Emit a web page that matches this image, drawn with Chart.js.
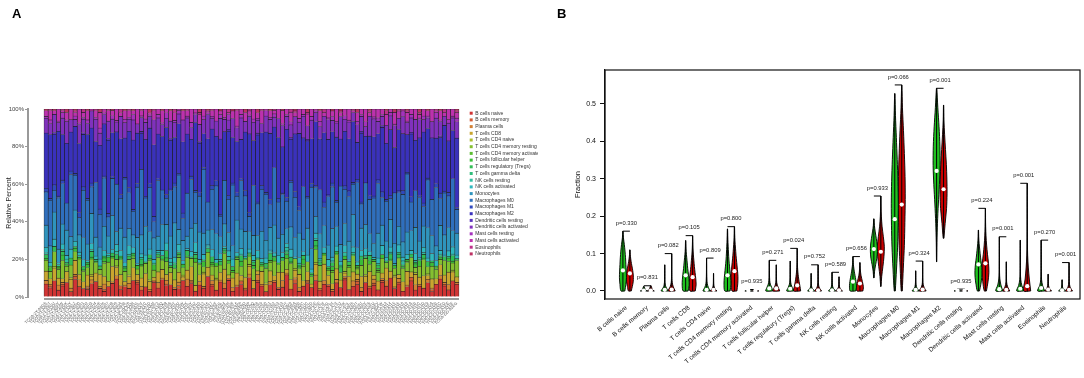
<!DOCTYPE html>
<html><head><meta charset="utf-8">
<script src="https://cdn.jsdelivr.net/npm/chart.js@4.4.1/dist/chart.umd.min.js"></script>
<style>
html,body{margin:0;padding:0;background:#fff;width:1084px;height:378px;overflow:hidden}
#ca{position:absolute;left:0;top:0}
#cb{position:absolute;left:540px;top:0}
.lab{position:absolute;font:bold 13px "Liberation Sans",Arial,sans-serif;color:#000}
</style></head><body>
<canvas id="ca" width="560" height="378"></canvas>
<canvas id="cb" width="544" height="378"></canvas>
<div class="lab" style="left:12px;top:6px">A</div>
<div class="lab" style="left:557px;top:6px">B</div>
<script>
// ---------- shared categories ----------
const cellTypes = ['B cells naive','B cells memory','Plasma cells','T cells CD8','T cells CD4 naive','T cells CD4 memory resting','T cells CD4 memory activated','T cells follicular helper','T cells regulatory (Tregs)','T cells gamma delta','NK cells resting','NK cells activated','Monocytes','Macrophages M0','Macrophages M1','Macrophages M2','Dendritic cells resting','Dendritic cells activated','Mast cells resting','Mast cells activated','Eosinophils','Neutrophils'];
const cellColors = ['#d23434','#d25a34','#d28034','#c9a52f','#aabd2f','#84c030','#5cbd32','#3abd37','#32bd55','#31bd7c','#31bda1','#2fb8bd','#2f94bd','#2f6fbd','#3049bd','#3a31bd','#5a31bd','#8031bd','#a531bd','#bd31ad','#bd318a','#bd3163'];

// ---------- panel A: sample ids (tick labels) ----------
const sampleIds = ('TCGA-2Y-A9GS TCGA-2Y-A9GT TCGA-2Y-A9GU TCGA-2Y-A9GV TCGA-2Y-A9GW TCGA-2Y-A9GX TCGA-2Y-A9GY TCGA-2Y-A9GZ TCGA-2Y-A9H0 TCGA-2Y-A9H1 ' +
 'TCGA-2Y-A9H2 TCGA-2Y-A9H3 TCGA-2Y-A9H4 TCGA-2Y-A9H5 TCGA-2Y-A9H6 TCGA-2Y-A9H7 TCGA-2Y-A9H8 TCGA-2Y-A9H9 TCGA-2Y-A9HA TCGA-2Y-A9HB ' +
 'TCGA-3K-AAZ8 TCGA-4R-AA8I TCGA-5C-A9VG TCGA-5C-A9VH TCGA-5R-AA1C TCGA-5R-AA1D TCGA-5R-AAAM TCGA-BC-4072 TCGA-BC-A10Q TCGA-BC-A10R ' +
 'TCGA-BC-A10S TCGA-BC-A10T TCGA-BC-A10U TCGA-BC-A10W TCGA-BC-A10X TCGA-BC-A10Y TCGA-BC-A10Z TCGA-BC-A110 TCGA-BC-A112 TCGA-BC-A216 ' +
 'TCGA-BC-A217 TCGA-BC-A3KF TCGA-BC-A3KG TCGA-BC-A5W4 TCGA-BC-A69H TCGA-BC-A69I TCGA-BD-A2L6 TCGA-BD-A3EP TCGA-BW-A5NO TCGA-BW-A5NP ' +
 'TCGA-BW-A5NQ TCGA-CC-5258 TCGA-CC-5259 TCGA-CC-5260 TCGA-CC-5261 TCGA-CC-5262 TCGA-CC-5263 TCGA-CC-A123 TCGA-CC-A1HT TCGA-CC-A3M9 ' +
 'TCGA-CC-A3MA TCGA-CC-A3MB TCGA-CC-A3MC TCGA-CC-A5UC TCGA-CC-A5UD TCGA-CC-A5UE TCGA-CC-A7IE TCGA-CC-A7IF TCGA-CC-A7IG TCGA-CC-A7IH ' +
 'TCGA-CC-A7II TCGA-CC-A7IJ TCGA-CC-A7IK TCGA-CC-A7IL TCGA-CC-A8HS TCGA-CC-A8HT TCGA-CC-A8HU TCGA-CC-A8HV TCGA-CC-A9FS TCGA-CC-A9FU ' +
 'TCGA-CC-A9FV TCGA-CC-A9FW TCGA-DD-A113 TCGA-DD-A114 TCGA-DD-A115 TCGA-DD-A116 TCGA-DD-A118 TCGA-DD-A119 TCGA-DD-A11A TCGA-DD-A11B ' +
 'TCGA-DD-A11C TCGA-DD-A11D TCGA-DD-A1E9 TCGA-DD-A1EA TCGA-DD-A1EB TCGA-DD-A1EC TCGA-DD-A1ED TCGA-DD-A1EE TCGA-DD-A1EF TCGA-DD-A1EG').split(' ');
const pctTicks = [0,20,40,60,80,100];

// ---------- panel A: estimated fractions (percent, per sample) ----------
const bNaive   = [7,5,9,4,6,8,3,10,6,5, 4,7,9,5,3,6,8,11,4,6, 5,9,7,4,6,3,8,5,10,6, 7,4,5,9,6,8,3,7,5,11, 6,4,8,5,9,3,6,7,4,10, 5,8,6,3,7,9,4,6,12,5, 7,3,6,8,5,9,4,7,6,3, 8,5,10,4,6,7,3,9,5,6, 4,8,6,11,5,7,3,6,9,4, 6,5,8,3,7,10,6,4,9,7];
const bMemory  = [0,1,0,0,1,0,0,2,0,0, 1,0,0,0,1,0,0,0,2,0, 0,0,1,0,0,0,1,0,0,1, 0,0,2,0,0,1,0,0,0,0, 1,0,0,0,1,0,0,2,0,0, 0,1,0,0,0,0,1,0,0,0, 2,0,0,1,0,0,0,0,1,0, 0,0,1,0,0,2,0,0,0,1, 0,1,0,0,0,1,0,0,2,0, 0,0,0,1,0,0,1,0,0,0];
const plasma   = [2,1,0,3,1,0,2,1,4,0, 1,2,0,1,3,0,1,2,0,1, 3,0,1,2,0,1,0,3,1,2, 0,1,2,0,4,1,0,2,1,0, 2,0,1,3,0,2,1,0,1,2, 0,3,1,0,2,1,0,4,1,0, 1,2,0,1,0,3,1,2,0,1, 2,0,1,0,3,1,2,0,1,2, 0,1,3,0,1,2,0,1,0,3, 1,0,2,1,0,2,1,3,0,1];
const tCD8     = [5,3,7,4,2,6,5,8,3,4, 6,2,5,7,4,3,9,5,6,2, 4,7,3,5,8,4,2,6,5,3, 7,4,6,2,5,8,3,4,7,5, 3,6,4,8,2,5,7,3,6,4, 5,2,7,4,6,3,8,5,2,6, 4,7,3,5,2,6,4,9,5,3, 6,4,2,7,5,3,6,4,8,2, 5,3,7,4,6,2,5,8,3,6, 4,7,2,5,3,6,4,7,5,3];
const cd4Naive = [0,0,1,0,0,0,1,0,0,0, 0,1,0,0,0,0,0,1,0,0, 1,0,0,0,0,1,0,0,0,0, 0,0,0,1,0,0,0,0,1,0, 0,1,0,0,0,0,0,0,0,1, 0,0,0,1,0,0,0,0,0,0, 1,0,0,0,0,1,0,0,0,0, 0,0,1,0,0,0,0,1,0,0, 0,0,0,0,1,0,0,0,0,1, 0,0,1,0,0,0,0,0,1,0];
const cd4Rest  = [6,4,8,5,10,3,7,5,9,6, 4,8,6,3,7,11,5,4,8,6, 9,5,3,7,6,10,4,8,5,7, 3,6,9,4,7,5,12,6,3,8, 5,7,4,9,6,3,8,5,10,4, 7,6,3,8,5,9,4,7,6,10, 5,3,8,6,4,7,9,5,3,6, 8,4,7,5,9,3,6,10,4,7, 5,8,3,6,4,9,7,5,8,3, 6,9,4,7,5,3,8,6,4,9];
const cd4Act   = [0,0,0,1,0,0,0,0,0,1, 0,0,0,0,1,0,0,0,0,0, 0,1,0,0,0,0,0,0,1,0, 0,0,1,0,0,0,0,0,0,0, 1,0,0,0,0,0,1,0,0,0, 0,0,0,0,1,0,0,0,0,0, 0,0,1,0,0,0,0,0,0,1, 0,0,0,0,0,1,0,0,0,0, 1,0,0,0,0,0,0,1,0,0, 0,0,0,0,1,0,0,0,0,0];
const tfh      = [1,2,0,1,3,1,0,2,1,0, 2,1,1,0,2,3,1,0,1,2, 0,1,2,1,0,1,3,1,0,2, 1,0,1,2,1,0,2,1,3,0, 1,2,0,1,2,1,0,3,1,1, 2,0,1,1,0,2,1,0,2,1, 0,1,3,0,1,2,0,1,1,2, 1,0,2,1,0,1,3,0,2,1, 1,2,0,1,2,0,1,1,0,2, 3,1,0,2,1,1,0,2,1,0];
const tregs    = [2,1,3,0,2,1,4,1,0,2, 1,3,0,2,1,0,2,3,1,0, 2,1,0,3,1,2,0,1,2,4, 0,2,1,0,3,1,2,0,1,2, 3,0,2,1,0,2,1,3,0,1, 2,1,0,2,4,1,0,2,1,3, 0,1,2,0,1,3,2,0,1,2, 1,3,0,2,1,0,2,1,3,0, 2,0,1,3,0,2,1,0,2,1, 0,2,3,1,0,1,2,0,3,1];
const tGD      = [0,0,0,0,1,0,0,0,0,0, 0,0,1,0,0,0,0,0,0,1, 0,0,0,0,0,0,1,0,0,0, 0,1,0,0,0,0,0,0,0,0, 0,0,0,1,0,0,0,0,0,0, 0,0,1,0,0,0,0,0,1,0, 0,0,0,0,0,0,1,0,0,0, 0,1,0,0,0,0,0,0,0,0, 0,0,0,0,0,1,0,0,0,0, 1,0,0,0,0,0,0,1,0,0];
const nkRest   = [1,0,0,1,0,2,0,0,1,0, 0,1,0,0,0,1,0,2,0,0, 1,0,0,1,0,0,0,1,0,0, 2,0,1,0,0,0,1,0,0,1, 0,0,1,0,2,0,0,1,0,0, 1,0,0,0,1,0,0,0,2,0, 0,1,0,0,0,1,0,0,0,1, 0,0,2,0,1,0,0,1,0,0, 1,0,0,1,0,0,2,0,0,1, 0,1,0,0,0,1,0,0,1,0];
const nkAct    = [3,2,4,1,3,2,5,3,2,4, 1,3,2,4,3,1,2,4,3,2, 5,3,1,2,4,3,2,1,3,4, 2,3,4,2,1,3,5,2,3,1, 4,2,3,1,3,4,2,3,1,2, 3,4,2,3,1,2,4,3,2,5, 1,3,2,4,2,3,1,3,4,2, 3,2,4,1,3,2,3,4,2,1, 3,5,2,3,1,4,2,3,2,4, 1,3,2,4,3,2,1,3,4,2];
const monocytes= [12,9,15,8,11,14,7,18,10,13, 9,16,11,7,13,10,20,8,12,15, 10,7,14,11,17,9,12,8,15,10, 13,18,9,11,7,14,10,16,12,8, 11,15,9,13,10,7,19,11,14,9, 12,8,15,10,13,17,9,11,8,14, 10,13,7,16,11,9,14,12,8,15, 11,9,13,10,18,8,12,15,10,7, 14,11,9,16,12,10,8,13,11,15, 9,12,17,10,8,14,11,13,9,12];
const macroM0  = [18,25,12,30,22,15,35,20,10,28, 24,14,32,19,26,11,22,29,16,34, 21,13,27,38,17,23,9,31,20,14, 26,19,33,12,24,29,16,21,36,15, 22,28,11,25,18,32,14,27,20,8, 30,17,23,26,13,35,19,24,15,28, 21,12,29,18,33,16,25,10,27,22, 14,31,20,24,17,37,13,26,19,23, 28,15,22,12,30,18,25,34,16,21, 24,11,27,20,32,15,23,18,29,13];
const macroM1  = [2,1,3,1,2,0,2,1,3,2, 1,2,0,3,1,2,1,0,2,1, 3,1,2,0,1,2,3,1,0,2, 1,2,1,3,0,2,1,2,1,0, 2,3,1,0,2,1,2,1,3,2, 0,1,2,1,3,0,2,1,2,1, 3,2,0,1,2,1,0,3,1,2, 1,0,2,3,1,2,1,0,2,1, 2,3,1,2,0,1,2,1,3,0, 1,2,1,0,2,3,1,2,0,1];
const macroM2  = [30,35,28,38,25,33,22,27,40,31, 35,29,24,37,28,42,26,32,30,23, 33,38,27,21,34,29,40,25,31,36, 28,24,30,39,33,22,35,29,19,34, 31,26,40,28,35,24,30,22,33,41, 27,36,29,34,38,25,32,28,37,26, 30,39,27,33,24,35,29,38,31,27, 36,25,32,28,34,21,37,29,33,30, 26,35,31,38,27,33,30,22,35,29, 32,40,28,34,25,31,36,29,27,38];
const dcRest   = [0,0,1,0,0,0,0,0,0,1, 0,0,0,0,0,1,0,0,0,0, 0,0,0,1,0,0,0,0,0,0, 1,0,0,0,0,0,0,1,0,0, 0,0,0,0,1,0,0,0,0,0, 0,1,0,0,0,0,0,0,0,1, 0,0,0,1,0,0,0,0,0,0, 0,0,0,0,0,0,1,0,0,0, 0,1,0,0,0,0,0,0,1,0, 0,0,0,0,0,1,0,0,0,0];
const dcAct    = [8,6,10,5,9,12,7,4,11,8, 6,9,13,7,5,10,8,6,12,9, 7,11,5,8,10,6,14,9,7,5, 10,8,6,12,9,7,4,10,8,13, 6,9,11,7,5,10,8,12,6,9, 11,7,5,9,8,6,10,13,7,8, 9,6,12,8,10,5,7,9,11,6, 8,12,7,9,5,10,8,6,11,9, 7,5,10,8,13,6,9,7,8,12, 10,7,6,9,11,8,5,10,7,9];
const mastRest = [1,2,0,1,3,1,0,2,1,1, 2,0,1,3,1,0,2,1,0,2, 1,3,0,1,2,1,0,2,1,3, 0,1,2,0,1,3,1,0,2,1, 1,0,2,1,3,0,1,2,0,1, 2,1,0,3,1,2,0,1,1,2, 0,2,1,0,2,1,3,0,1,2, 1,0,2,1,0,2,1,3,0,1, 2,1,0,2,1,0,3,1,2,0, 1,2,1,0,3,1,0,2,1,2];
const mastAct  = [3,5,2,7,1,4,6,2,8,3, 5,1,4,9,2,6,3,7,2,5, 4,2,8,3,6,1,5,3,7,2, 6,4,1,5,3,8,2,6,4,1, 3,7,2,5,1,4,9,3,5,2, 6,3,7,1,4,2,5,8,3,6, 2,5,3,7,4,1,6,2,5,3, 7,2,4,6,1,5,3,8,2,4, 5,3,6,2,7,4,1,5,3,6, 2,4,3,7,1,5,2,6,4,3];
const eosin    = [0,1,0,0,1,0,0,1,0,2, 0,0,1,0,0,1,0,0,2,0, 1,0,0,1,0,0,1,0,0,0, 0,2,0,0,1,0,0,1,0,0, 1,0,0,0,2,0,1,0,0,1, 0,0,1,0,0,1,0,0,0,2, 1,0,0,1,0,0,0,2,0,0, 0,1,0,0,1,0,0,0,1,0, 0,0,2,0,0,1,0,1,0,0, 1,0,0,0,1,0,2,0,0,1];
const neutro   = [1,0,1,0,0,2,0,1,0,0, 1,0,0,2,0,0,1,0,0,1, 0,1,0,0,0,2,0,0,1,0, 1,0,0,1,0,0,0,2,0,1, 0,0,1,0,0,1,0,0,2,0, 0,2,0,0,1,0,0,1,0,0, 1,0,0,2,0,0,1,0,0,1, 0,1,0,0,0,2,0,0,1,0, 0,0,1,0,2,0,0,1,0,0, 2,0,1,0,0,1,0,0,0,1];
const seriesA = [bNaive,bMemory,plasma,tCD8,cd4Naive,cd4Rest,cd4Act,tfh,tregs,tGD,nkRest,nkAct,monocytes,macroM0,macroM1,macroM2,dcRest,dcAct,mastRest,mastAct,eosin,neutro];

// ---------- panel B: violin summaries (fraction) ----------
const pValues  = ['0.330','0.831','0.082','0.105','0.809','0.800','0.935','0.271','0.024','0.752','0.589','0.656','0.933','0.066','0.324','0.001','0.935','0.224','0.001','0.001','0.270','0.001'];
const fracTicks = [0,0.1,0.2,0.3,0.4,0.5];
const greenMin = [0,0,0,0,0,0,0,0,0,0,0,0,0.035,0,0,0.078,0,0,0,0,0,0];
const greenMax = [0.160,0.012,0.070,0.135,0.088,0.166,0.004,0.082,0.080,0.047,0.050,0.092,0.193,0.528,0.054,0.542,0.005,0.163,0.145,0.136,0.136,0.030];
const greenMed = [0.055,0.001,0.003,0.042,0.003,0.042,0.001,0.007,0.006,0.002,0.002,0.025,0.112,0.192,0.003,0.321,0.001,0.071,0.005,0.006,0.008,0.002];
const redMin   = [0,0,0,0,0,0,0,0,0,0,0,0,0.012,0,0,0.141,0,0,0,0,0,0];
const redMax   = [0.110,0.014,0.100,0.148,0.047,0.172,0.004,0.070,0.114,0.070,0.038,0.076,0.254,0.551,0.080,0.497,0.005,0.221,0.078,0.288,0.045,0.076];
const redMed   = [0.047,0.001,0.004,0.037,0.003,0.053,0.001,0.007,0.015,0.002,0.002,0.020,0.105,0.231,0.004,0.272,0.001,0.074,0.003,0.013,0.004,0.003];
// relative density width at 10 even levels from min to max
const greenShape = [
 [0.55,0.85,1.0,0.95,0.85,0.75,0.6,0.4,0.15,0.03],
 [1,0.7,0.5,0.4,0.35,0.3,0.25,0.2,0.15,0.1],
 [1,0.5,0.18,0.08,0.05,0.04,0.04,0.03,0.03,0.02],
 [0.7,1.0,0.95,0.8,0.6,0.45,0.3,0.15,0.08,0.03],
 [1,0.5,0.2,0.1,0.06,0.04,0.03,0.03,0.02,0.02],
 [0.75,1.0,0.9,0.7,0.5,0.35,0.25,0.15,0.08,0.03],
 [1,0.8,0.6,0.5,0.4,0.35,0.3,0.25,0.2,0.15],
 [1,0.7,0.3,0.12,0.07,0.05,0.04,0.03,0.03,0.02],
 [1,0.6,0.25,0.1,0.06,0.05,0.04,0.03,0.03,0.02],
 [1,0.45,0.18,0.08,0.05,0.04,0.03,0.03,0.02,0.02],
 [1,0.5,0.2,0.1,0.06,0.05,0.04,0.03,0.03,0.02],
 [0.8,1.0,0.95,0.8,0.6,0.4,0.25,0.12,0.06,0.03],
 [0.05,0.2,0.5,0.85,1.0,0.95,0.7,0.4,0.15,0.04],
 [0.15,0.5,0.8,0.95,1.0,0.9,0.7,0.45,0.2,0.03],
 [1,0.5,0.2,0.1,0.06,0.05,0.04,0.03,0.03,0.02],
 [0.03,0.1,0.25,0.5,0.8,1.0,0.95,0.7,0.35,0.05],
 [1,0.8,0.6,0.5,0.4,0.35,0.3,0.25,0.2,0.15],
 [0.3,0.7,0.95,1.0,0.85,0.6,0.4,0.2,0.08,0.03],
 [1,0.45,0.15,0.06,0.04,0.03,0.03,0.02,0.02,0.02],
 [1,0.45,0.15,0.06,0.04,0.03,0.03,0.02,0.02,0.02],
 [1,0.4,0.12,0.05,0.04,0.03,0.03,0.02,0.02,0.02],
 [1,0.6,0.3,0.15,0.1,0.08,0.06,0.05,0.04,0.03]];
const redShape = [
 [0.4,0.7,0.95,1.0,0.9,0.7,0.45,0.25,0.1,0.03],
 [1,0.7,0.5,0.4,0.35,0.3,0.25,0.2,0.15,0.1],
 [1,0.45,0.15,0.07,0.05,0.04,0.03,0.03,0.02,0.02],
 [0.75,1.0,0.9,0.7,0.5,0.35,0.2,0.1,0.05,0.02],
 [1,0.45,0.2,0.1,0.06,0.05,0.04,0.03,0.03,0.02],
 [0.7,0.95,1.0,0.85,0.65,0.45,0.3,0.15,0.07,0.03],
 [1,0.8,0.6,0.5,0.4,0.35,0.3,0.25,0.2,0.15],
 [1,0.65,0.3,0.12,0.07,0.05,0.04,0.03,0.03,0.02],
 [1,0.8,0.55,0.35,0.2,0.1,0.06,0.04,0.03,0.02],
 [1,0.4,0.15,0.07,0.05,0.04,0.03,0.03,0.02,0.02],
 [1,0.5,0.25,0.12,0.08,0.06,0.05,0.04,0.03,0.02],
 [0.85,1.0,0.9,0.7,0.5,0.3,0.18,0.1,0.05,0.03],
 [0.05,0.25,0.6,0.9,1.0,0.7,0.35,0.15,0.06,0.03],
 [0.15,0.45,0.75,0.9,1.0,0.95,0.75,0.5,0.2,0.03],
 [1,0.45,0.15,0.07,0.05,0.04,0.03,0.03,0.02,0.02],
 [0.1,0.45,0.85,1.0,0.95,0.8,0.55,0.3,0.1,0.03],
 [1,0.8,0.6,0.5,0.4,0.35,0.3,0.25,0.2,0.15],
 [0.3,0.75,1.0,0.9,0.6,0.35,0.18,0.08,0.04,0.02],
 [1,0.5,0.2,0.08,0.05,0.04,0.03,0.03,0.02,0.02],
 [1,0.6,0.3,0.12,0.06,0.04,0.03,0.03,0.02,0.02],
 [1,0.5,0.25,0.12,0.08,0.06,0.05,0.04,0.03,0.02],
 [1,0.4,0.15,0.07,0.05,0.04,0.03,0.03,0.02,0.02]];

Chart.defaults.font.family = '"Liberation Sans", Arial, sans-serif';
Chart.defaults.color = '#222';

// ================= PANEL A =================
const totals = sampleIds.map((_, j) => seriesA.reduce((s, arr) => s + arr[j], 0));
const dsA = cellTypes.map((name, k) => ({
  label: name,
  data: seriesA[k].map((v, j) => ({x: j, y: v / totals[j] * 100})),
  backgroundColor: cellColors[k],
  borderColor: 'rgba(15,15,15,0.9)',
  borderWidth: 0.6,
  barPercentage: 1, categoryPercentage: 1
}));
const axisLineA = {
  id: 'axisLineA',
  afterDraw(chart) {
    const {ctx, chartArea: a, scales: {x}} = chart;
    ctx.save(); ctx.strokeStyle = '#9a9a9a'; ctx.lineWidth = 2;
    ctx.beginPath();
    ctx.moveTo(x.getPixelForValue(-0.5), a.bottom + 2);
    ctx.lineTo(x.getPixelForValue(sampleIds.length - 0.5), a.bottom + 2);
    ctx.stroke(); ctx.restore();
  }
};
new Chart(document.getElementById('ca'), {
  type: 'bar',
  data: {datasets: dsA},
  plugins: [axisLineA],
  options: {
    responsive: false, animation: false, events: [],
    layout: {padding: {top: 109, left: 0, right: 22, bottom: 0}},
    plugins: {
      tooltip: {enabled: false},
      legend: {
        position: 'right', align: 'start', maxWidth: 70,
        labels: {
          boxWidth: 3, boxHeight: 3, padding: 1.7, color: '#333', font: {size: 5},
          generateLabels(chart) {
            const items = Chart.defaults.plugins.legend.labels.generateLabels(chart);
            items.forEach(it => { it.lineWidth = 0; it.strokeStyle = it.fillStyle; });
            return items;
          }
        }
      }
    },
    scales: {
      x: {
        type: 'linear', stacked: true, min: -4.355, max: 101.67, offset: false,
        grid: {display: false, drawTicks: false}, border: {display: false},
        afterBuildTicks: s => { s.ticks = sampleIds.map((_, i) => ({value: i})); },
        ticks: {autoSkip: false, minRotation: 45, maxRotation: 45, font: {size: 4}, color: '#555', padding: 4,
                callback: (v, i) => sampleIds[i]},
        afterFit: s => { s.height = 81; }
      },
      y: {
        stacked: true, min: 0, max: 100,
        afterBuildTicks: s => { s.ticks = pctTicks.map(v => ({value: v})); },
        ticks: {callback: v => v + '%', font: {size: 6}, color: '#444', padding: 1},
        grid: {drawOnChartArea: false, tickLength: 3, color: '#999', lineWidth: 1},
        border: {display: true, color: '#999', width: 2},
        title: {display: true, text: 'Relative Percent', font: {size: 7}, color: '#222', padding: {top: 5, bottom: 0}},
        afterFit: s => { s.width = 28; }
      }
    }
  }
});

// ================= PANEL B =================
const HALF = 0.5;
function violinPoints(pos, mn, mx, shape) {
  const K = shape.length, pts = [];
  for (let k = 0; k < K; k++) pts.push({x: pos + shape[k] * HALF, y: mn + (mx - mn) * k / (K - 1)});
  for (let k = K - 1; k >= 0; k--) pts.push({x: pos - shape[k] * HALF, y: mn + (mx - mn) * k / (K - 1)});
  pts.push({x: pts[0].x, y: pts[0].y});
  return pts;
}
const dsB = [];
const medPts = [], centerPts = [], bracketPts = [];
cellTypes.forEach((c, i) => {
  const gp = 3 * i + 1, rp = 3 * i + 2;
  dsB.push({data: violinPoints(gp, greenMin[i], greenMax[i], greenShape[i]), showLine: true, fill: 'shape',
    backgroundColor: '#1fc01f', borderColor: '#000', borderWidth: 0.9, pointRadius: 0, tension: 0.3, order: 3});
  dsB.push({data: violinPoints(rp, redMin[i], redMax[i], redShape[i]), showLine: true, fill: 'shape',
    backgroundColor: '#c80000', borderColor: '#000', borderWidth: 0.9, pointRadius: 0, tension: 0.3, order: 3});
  centerPts.push({x: gp, y: greenMin[i]}, {x: gp, y: greenMax[i]}, {x: gp, y: null});
  centerPts.push({x: rp, y: redMin[i]}, {x: rp, y: redMax[i]}, {x: rp, y: null});
  medPts.push({x: gp, y: greenMed[i]}, {x: rp, y: redMed[i]});
  const h = Math.max(greenMax[i], redMax[i]);
  bracketPts.push({x: gp, y: h}, {x: rp, y: h}, {x: rp, y: null});
});
dsB.push({data: centerPts, showLine: true, borderColor: '#000', borderWidth: 1, pointRadius: 0, spanGaps: false, order: 2});
dsB.push({data: bracketPts, showLine: true, borderColor: '#000', borderWidth: 1, pointRadius: 0, spanGaps: false, order: 2});
dsB.push({data: medPts, showLine: false, pointRadius: 2.1, pointBackgroundColor: '#fff', pointBorderWidth: 0, order: 1});

const boxAndP = {
  id: 'boxAndP',
  afterDatasetsDraw(chart) {
    const {ctx, chartArea: a, scales: {x, y}} = chart;
    ctx.save();
    ctx.strokeStyle = '#111'; ctx.lineWidth = 1.2;
    ctx.strokeRect(a.left, a.top, a.right - a.left, a.bottom - a.top);
    ctx.fillStyle = '#222';
    ctx.font = '5.8px "Liberation Sans", Arial, sans-serif';
    ctx.textAlign = 'center'; ctx.textBaseline = 'middle';
    cellTypes.forEach((c, i) => {
      const h = Math.max(greenMax[i], redMax[i]);
      ctx.fillText('p=' + pValues[i], x.getPixelForValue(3 * i + 1.5), y.getPixelForValue(h) - 8);
    });
    ctx.restore();
  }
};
new Chart(document.getElementById('cb'), {
  type: 'scatter',
  data: {datasets: dsB},
  plugins: [boxAndP],
  options: {
    responsive: false, animation: false, events: [],
    layout: {padding: {top: 70, left: 0, right: 2, bottom: 0}},
    plugins: {legend: {display: false}, tooltip: {enabled: false}},
    scales: {
      x: {
        type: 'linear', min: -1.571, max: 66.571,
        grid: {display: false, drawTicks: false}, border: {display: false},
        afterBuildTicks: s => { s.ticks = cellTypes.map((_, i) => ({value: 3 * i + 1.5})); },
        ticks: {autoSkip: false, minRotation: 40, maxRotation: 40, font: {size: 6.5}, color: '#111', padding: 5,
                callback: (v, i) => cellTypes[i]},
        afterFit: s => { s.height = 79; }
      },
      y: {
        min: -0.0214, max: 0.5909,
        afterBuildTicks: s => { s.ticks = fracTicks.map(v => ({value: v})); },
        ticks: {callback: v => v.toFixed(1), font: {size: 7}, color: '#111', padding: 4},
        grid: {drawOnChartArea: false, tickLength: 5, color: '#111', lineWidth: 1},
        border: {display: true, color: '#111', width: 1.2},
        title: {display: true, text: 'Fraction', font: {size: 7.5}, color: '#111', padding: {top: 33, bottom: 0}},
        afterFit: s => { s.width = 65; }
      }
    }
  }
});
</script>
</body></html>
